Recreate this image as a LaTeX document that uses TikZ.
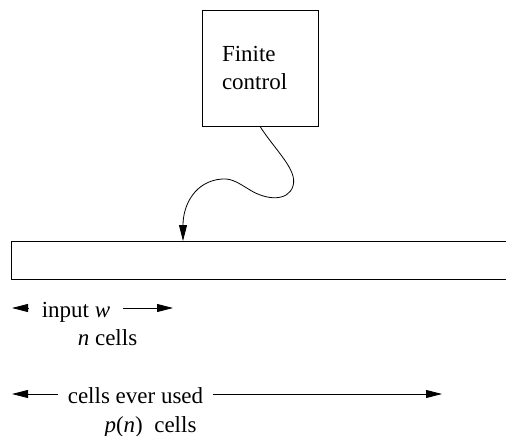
\documentclass[tikz,border=0pt]{standalone}
\usepackage{fontspec}
\setmainfont{LiberationSerif}[Extension=.ttf, UprightFont=*-Regular, ItalicFont=*-Italic, BoldFont=*-Bold, BoldItalicFont=*-BoldItalic]
\usetikzlibrary{arrows.meta, positioning}
\tikzset{
  ctrlbox/.style={draw, line width=0.8pt, minimum width=116pt, minimum height=116pt, text width=76pt, align=left},
  tapeline/.style={line width=0.8pt},
  arrow/.style={-{Triangle[length=16pt, width=8pt]}, line width=0.8pt},
  rowlabel/.style={anchor=base, text height=18pt, text depth=0pt, inner ysep=0pt, inner xsep=13pt},
  every node/.style={font=\rmfamily\fontsize{23}{28}\selectfont}
}
\begin{document}
\begin{tikzpicture}[x=1pt,y=-1pt]
    \useasboundingbox (0,0) rectangle (506,436);
    % finite control
    \node[ctrlbox] (ctrl) at (260,68) {Finite\\control};
    % the tape, open to the right
    \coordinate (tl) at (11,241);
    \coordinate (bl) at (11,279);
    \coordinate (tr) at (506,241);
    \coordinate (br) at (506,279);
    \draw[tapeline] (tr) -- (tl) -- (bl) -- (br);
    % tape head
    \coordinate (head) at (183,241);
    \draw[arrow] (ctrl.south) .. controls (275,150) and (298,170) .. (293,186)
        .. controls (288,202) and (266,200) .. (250,190)
        .. controls (240,184) and (232,178) .. (222,179)
        .. controls (195,181) and (183,205) .. (head);
    % input w
    \node[rowlabel] (inp) at (76,317) {input \textit{w}};
    \coordinate (inpL) at (12,308);
    \coordinate (inpR) at (173,308);
    \draw[arrow] (inp.west) -- (inpL);
    \draw[arrow] (inp.east) -- (inpR);
    \node[anchor=base] (ncells) at (107.5,345) {\textit{n} cells};
    % cells ever used
    \node[rowlabel, inner xsep=10pt] (used) at (135.5,403) {cells ever used};
    \coordinate (usedL) at (12,394);
    \coordinate (usedR) at (442,394);
    \draw[arrow] (used.west) -- (usedL);
    \draw[arrow] (used.east) -- (usedR);
    \node[anchor=base] (pcells) at (150.5,432) {\textit{p}(\textit{n})\ \ cells};
\end{tikzpicture}
\end{document}
